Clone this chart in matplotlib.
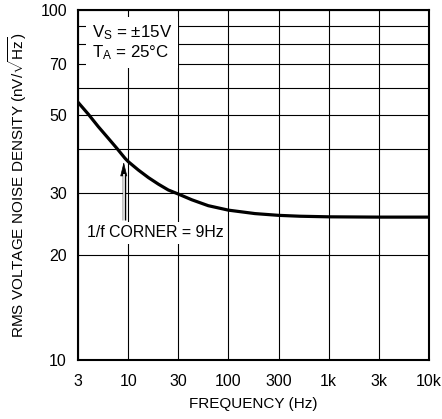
import numpy as np
import matplotlib
matplotlib.use('Agg')
import matplotlib.pyplot as plt
from matplotlib.ticker import FixedLocator, NullFormatter, NullLocator

plt.rcParams['font.family'] = ['Liberation Sans', 'DejaVu Sans']
plt.rcParams['mathtext.fontset'] = 'custom'
plt.rcParams['mathtext.rm'] = 'Liberation Sans'
plt.rcParams['mathtext.it'] = 'Liberation Sans:italic'
plt.rcParams['mathtext.sf'] = 'Liberation Sans'

# data
freq = [3, 3.84, 4.89, 6.21, 7.6, 9.27, 10, 12.5, 15.6, 19.4, 24.1, 30,
        41.4, 61.6, 100, 179, 300, 500, 1000, 3000, 10000]
noise = [54.5, 50.4, 46.4, 43.0, 40.3, 37.7, 36.9, 34.9, 33.2, 31.8, 30.6, 29.8,
         28.7, 27.6, 26.8, 26.2, 25.9, 25.75, 25.65, 25.6, 25.6]

x_ticks = [3, 10, 30, 100, 300, 1000, 3000, 10000]
x_labels = ['3', '10', '30', '100', '300', '1k', '3k', '10k']
y_ticks = [10, 20, 30, 50, 70, 100]
y_labels = ['10', '20', '30', '50', '70', '100']
y_minor = [40, 60, 80, 90]

corner_freq = 9

# the frequency axis on the original is evenly spaced between 1-3-10 ticks
tick_log = np.log10(x_ticks)
tick_idx = np.arange(len(x_ticks), dtype=float)


def fwd(x):
    lx = np.log10(np.clip(np.asarray(x, dtype=float), 1e-6, None))
    out = np.interp(lx, tick_log, tick_idx)
    out = np.where(lx < tick_log[0], (lx - tick_log[0]) / (tick_log[1] - tick_log[0]), out)
    out = np.where(lx > tick_log[-1], tick_idx[-1] + (lx - tick_log[-1]) / (tick_log[-1] - tick_log[-2]), out)
    return out


def inv(u):
    u = np.asarray(u, dtype=float)
    out = np.interp(u, tick_idx, tick_log)
    out = np.where(u < 0, tick_log[0] + u * (tick_log[1] - tick_log[0]), out)
    out = np.where(u > tick_idx[-1], tick_log[-1] + (u - tick_idx[-1]) * (tick_log[-1] - tick_log[-2]), out)
    return 10 ** out


fig = plt.figure(figsize=(4.42, 4.19), dpi=100)
ax = fig.add_axes([78 / 442, 59 / 419, 351 / 442, 350 / 419])

ax.set_xscale('function', functions=(fwd, inv))
ax.set_yscale('log')
ax.set_xlim(3, 10000)
ax.set_ylim(10, 100)

ax.set_xticks(x_ticks)
ax.set_xticklabels(x_labels)
ax.xaxis.set_minor_locator(NullLocator())
ax.set_yticks(y_ticks)
ax.set_yticklabels(y_labels)
ax.yaxis.set_minor_locator(FixedLocator(y_minor))
ax.yaxis.set_minor_formatter(NullFormatter())

ax.tick_params(which='both', length=0, labelsize=11.5)
ax.tick_params(axis='x', pad=10)
ax.tick_params(axis='y', pad=8)
ax.grid(which='both', color='black', lw=0.8)
for s in ax.spines.values():
    s.set_linewidth(1.5)

ax.plot(freq, noise, color='black', lw=2.3, zorder=3, solid_joinstyle='round')

# corner arrow: hollow shaft, filled head
ax.plot([corner_freq, corner_freq], [25.1, 34.2], color='black', lw=2.5,
        solid_capstyle='butt', zorder=3)
ax.annotate('', xy=(corner_freq, 36.8), xytext=(corner_freq, 31),
            arrowprops=dict(arrowstyle='-|>,head_length=0.9,head_width=0.22',
                            mutation_scale=10, color='black', lw=0.5,
                            shrinkA=0, shrinkB=0), zorder=3.5)
ax.plot([corner_freq, corner_freq], [24.5, 34.0], color='white', lw=1.2,
        solid_capstyle='butt', zorder=4)

ax.text(0.0265, 0.363, '1/f CORNER = 9Hz', transform=ax.transAxes,
        ha='left', va='center', fontsize=11.4, zorder=5,
        bbox=dict(facecolor='white', edgecolor='none', pad=2.5))
ax.text(0.04, 0.907, 'V$_\\mathrm{S}$ = ±15V\nT$_\\mathrm{A}$ = 25°C',
        transform=ax.transAxes, ha='left', va='center', fontsize=12.2,
        linespacing=1.15, zorder=5,
        bbox=dict(facecolor='white', edgecolor='none', pad=4))

ax.set_xlabel('FREQUENCY (Hz)', fontsize=11, labelpad=5.5)
ax.set_ylabel('RMS VOLTAGE NOISE DENSITY (nV/$\\sqrt{\\mathrm{Hz}}$)', fontsize=11, labelpad=8)

fig.savefig('out.png', dpi=100)
